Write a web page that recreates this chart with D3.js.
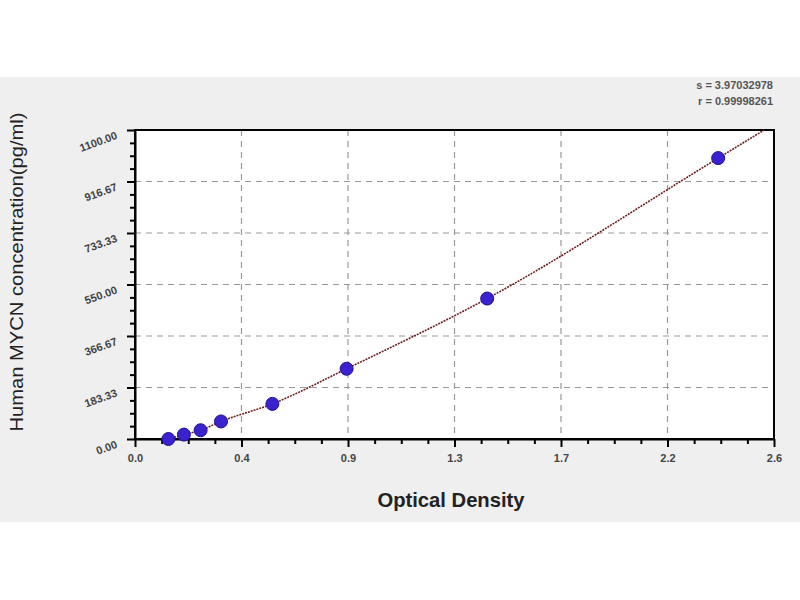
<!DOCTYPE html>
<html>
<head>
<meta charset="utf-8">
<script src="https://cdn.jsdelivr.net/npm/d3@7"></script>
<style>
body { margin: 0; background: #fff; }
text { font-family: "Liberation Sans", Arial, sans-serif; }
</style>
</head>
<body>
<div id="grafica"></div>
<script>
// standards: optical density vs concentration
var od = [0.136, 0.199, 0.267, 0.350, 0.559, 0.861, 1.433, 2.373];
var conc = [0, 15.625, 31.25, 62.5, 125, 250, 500, 1000];
// fitted curve
var fitOd = [0.136, 0.199, 0.267, 0.350, 0.559, 0.861, 1.433, 2.373, 2.56];
var fitConc = [0, 15.625, 31.25, 62.5, 125, 250, 500, 1000, 1100];
var xTicks = [0, 0.4333, 0.8667, 1.3, 1.7333, 2.1667, 2.6];
var xLabels = ['0.0', '0.4', '0.9', '1.3', '1.7', '2.2', '2.6'];
var yTicks = [0, 183.33, 366.67, 550, 733.33, 916.67, 1100];
var yLabels = ['0.00', '183.33', '366.67', '550.00', '733.33', '916.67', '1100.00'];

var izq = 135, der = 774, arriba = 130, abajo = 439;

var svg = d3.select("#grafica")
	.append('svg')
	.attr("width", 800)
	.attr("height", 600);

svg.append("rect")// fondo gris
	.attr("x", 0).attr("y", 77)
	.attr("width", 800).attr("height", 445)
	.attr("fill", "#efefef");

var x = d3.scaleLinear().domain([0, 2.6]).range([izq, der]);
var y = d3.scaleLinear().domain([0, 1100]).range([abajo, arriba]);

svg.append("rect")
	.attr("x", izq).attr("y", arriba)
	.attr("width", der - izq).attr("height", abajo - arriba)
	.attr("fill", "#fff");

// minor ticks, 4 subdivisions per major interval
function menores(t) {
	var m = [];
	for (var i = 0; i < t.length - 1; i++) {
		for (var k = 1; k < 4; k++) m.push(t[i] + (t[i + 1] - t[i]) * k / 4);
	}
	return m;
}

// grid
svg.append("g").selectAll("line")
	.data(yTicks.slice(1, -1))
	.join("line")
	.attr("x1", izq).attr("x2", der)
	.attr("y1", d => y(d)).attr("y2", d => y(d))
	.attr("stroke", "#999").attr("stroke-width", 1.2)
	.attr("stroke-dasharray", "6,5");
svg.append("g").selectAll("line")
	.data(xTicks.slice(1, -1))
	.join("line")
	.attr("y1", arriba).attr("y2", abajo)
	.attr("x1", d => x(d)).attr("x2", d => x(d))
	.attr("stroke", "#999").attr("stroke-width", 1.2)
	.attr("stroke-dasharray", "6,5");

// minor tick marks
svg.append("g")
	.attr("transform", "translate(0," + abajo + ")")
	.call(d3.axisBottom(x).tickValues(menores(xTicks)).tickSize(5).tickFormat(""))
	.call(g => g.select(".domain").remove())
	.selectAll("line").attr("stroke-width", 2);
svg.append("g")
	.attr("transform", "translate(" + izq + ",0)")
	.call(d3.axisLeft(y).tickValues(menores(yTicks)).tickSize(5).tickFormat(""))
	.call(g => g.select(".domain").remove())
	.selectAll("line").attr("stroke-width", 2);

// major axes
var ejeX = svg.append("g")
	.attr("transform", "translate(0," + abajo + ")")
	.call(d3.axisBottom(x).tickValues(xTicks).tickSize(8).tickSizeOuter(0)
		.tickFormat((d, i) => xLabels[i]));
ejeX.selectAll("line").attr("stroke-width", 2);
ejeX.selectAll("text")
	.attr("font-size", "11px").attr("font-weight", "bold").attr("fill", "#444")
	.attr("dy", "1.05em");

var ejeY = svg.append("g")
	.attr("transform", "translate(" + izq + ",0)")
	.call(d3.axisLeft(y).tickValues(yTicks).tickSize(8).tickSizeOuter(0)
		.tickFormat((d, i) => yLabels[i]));
ejeY.selectAll("line").attr("stroke-width", 2);
ejeY.selectAll("text")
	.attr("font-size", "11px").attr("font-weight", "bold").attr("fill", "#444")
	.attr("x", null).attr("dy", null)
	.attr("transform", "translate(-17,8) rotate(-20)")
	.attr("text-anchor", "end");

svg.selectAll(".domain").attr("stroke-width", 2);

// frame
svg.append("rect")
	.attr("x", izq).attr("y", arriba)
	.attr("width", der - izq).attr("height", abajo - arriba)
	.attr("fill", "none").attr("stroke", "#000").attr("stroke-width", 2);

// fitted curve
var linea = d3.line()
	.x(d => x(d[0])).y(d => y(d[1]))
	.curve(d3.curveMonotoneX);
svg.append("path")
	.datum(fitOd.map((d, i) => [d, fitConc[i]]))
	.attr("d", linea)
	.attr("fill", "none")
	.attr("stroke", "#6b1f1f")
	.attr("stroke-width", 1.6)
	.attr("stroke-dasharray", "2,1");

// points
svg.append("g").selectAll("circle")
	.data(od.map((d, i) => [d, conc[i]]))
	.join("circle")
	.attr("cx", d => x(d[0])).attr("cy", d => y(d[1]))
	.attr("r", 6.5)
	.attr("fill", "#3a22d0")
	.attr("stroke", "#22128a").attr("stroke-width", 1);

// titles
svg.append("text")
	.attr("x", 451).attr("y", 507)
	.attr("text-anchor", "middle")
	.attr("font-size", "21px").attr("font-weight", "bold").attr("fill", "#222")
	.attr("textLength", 147).attr("lengthAdjust", "spacingAndGlyphs")
	.text("Optical Density");
svg.append("text")
	.attr("transform", "translate(23,272) rotate(-90)")
	.attr("text-anchor", "middle")
	.attr("font-size", "19px").attr("fill", "#222")
	.attr("textLength", 319).attr("lengthAdjust", "spacingAndGlyphs")
	.text("Human MYCN concentration(pg/ml)");

svg.append("text")
	.attr("x", 773).attr("y", 89)
	.attr("text-anchor", "end")
	.attr("font-size", "11px").attr("font-weight", "bold").attr("fill", "#555")
	.text("s = 3.97032978");
svg.append("text")
	.attr("x", 773).attr("y", 105)
	.attr("text-anchor", "end")
	.attr("font-size", "11px").attr("font-weight", "bold").attr("fill", "#555")
	.text("r = 0.99998261");
</script>
</body>
</html>
